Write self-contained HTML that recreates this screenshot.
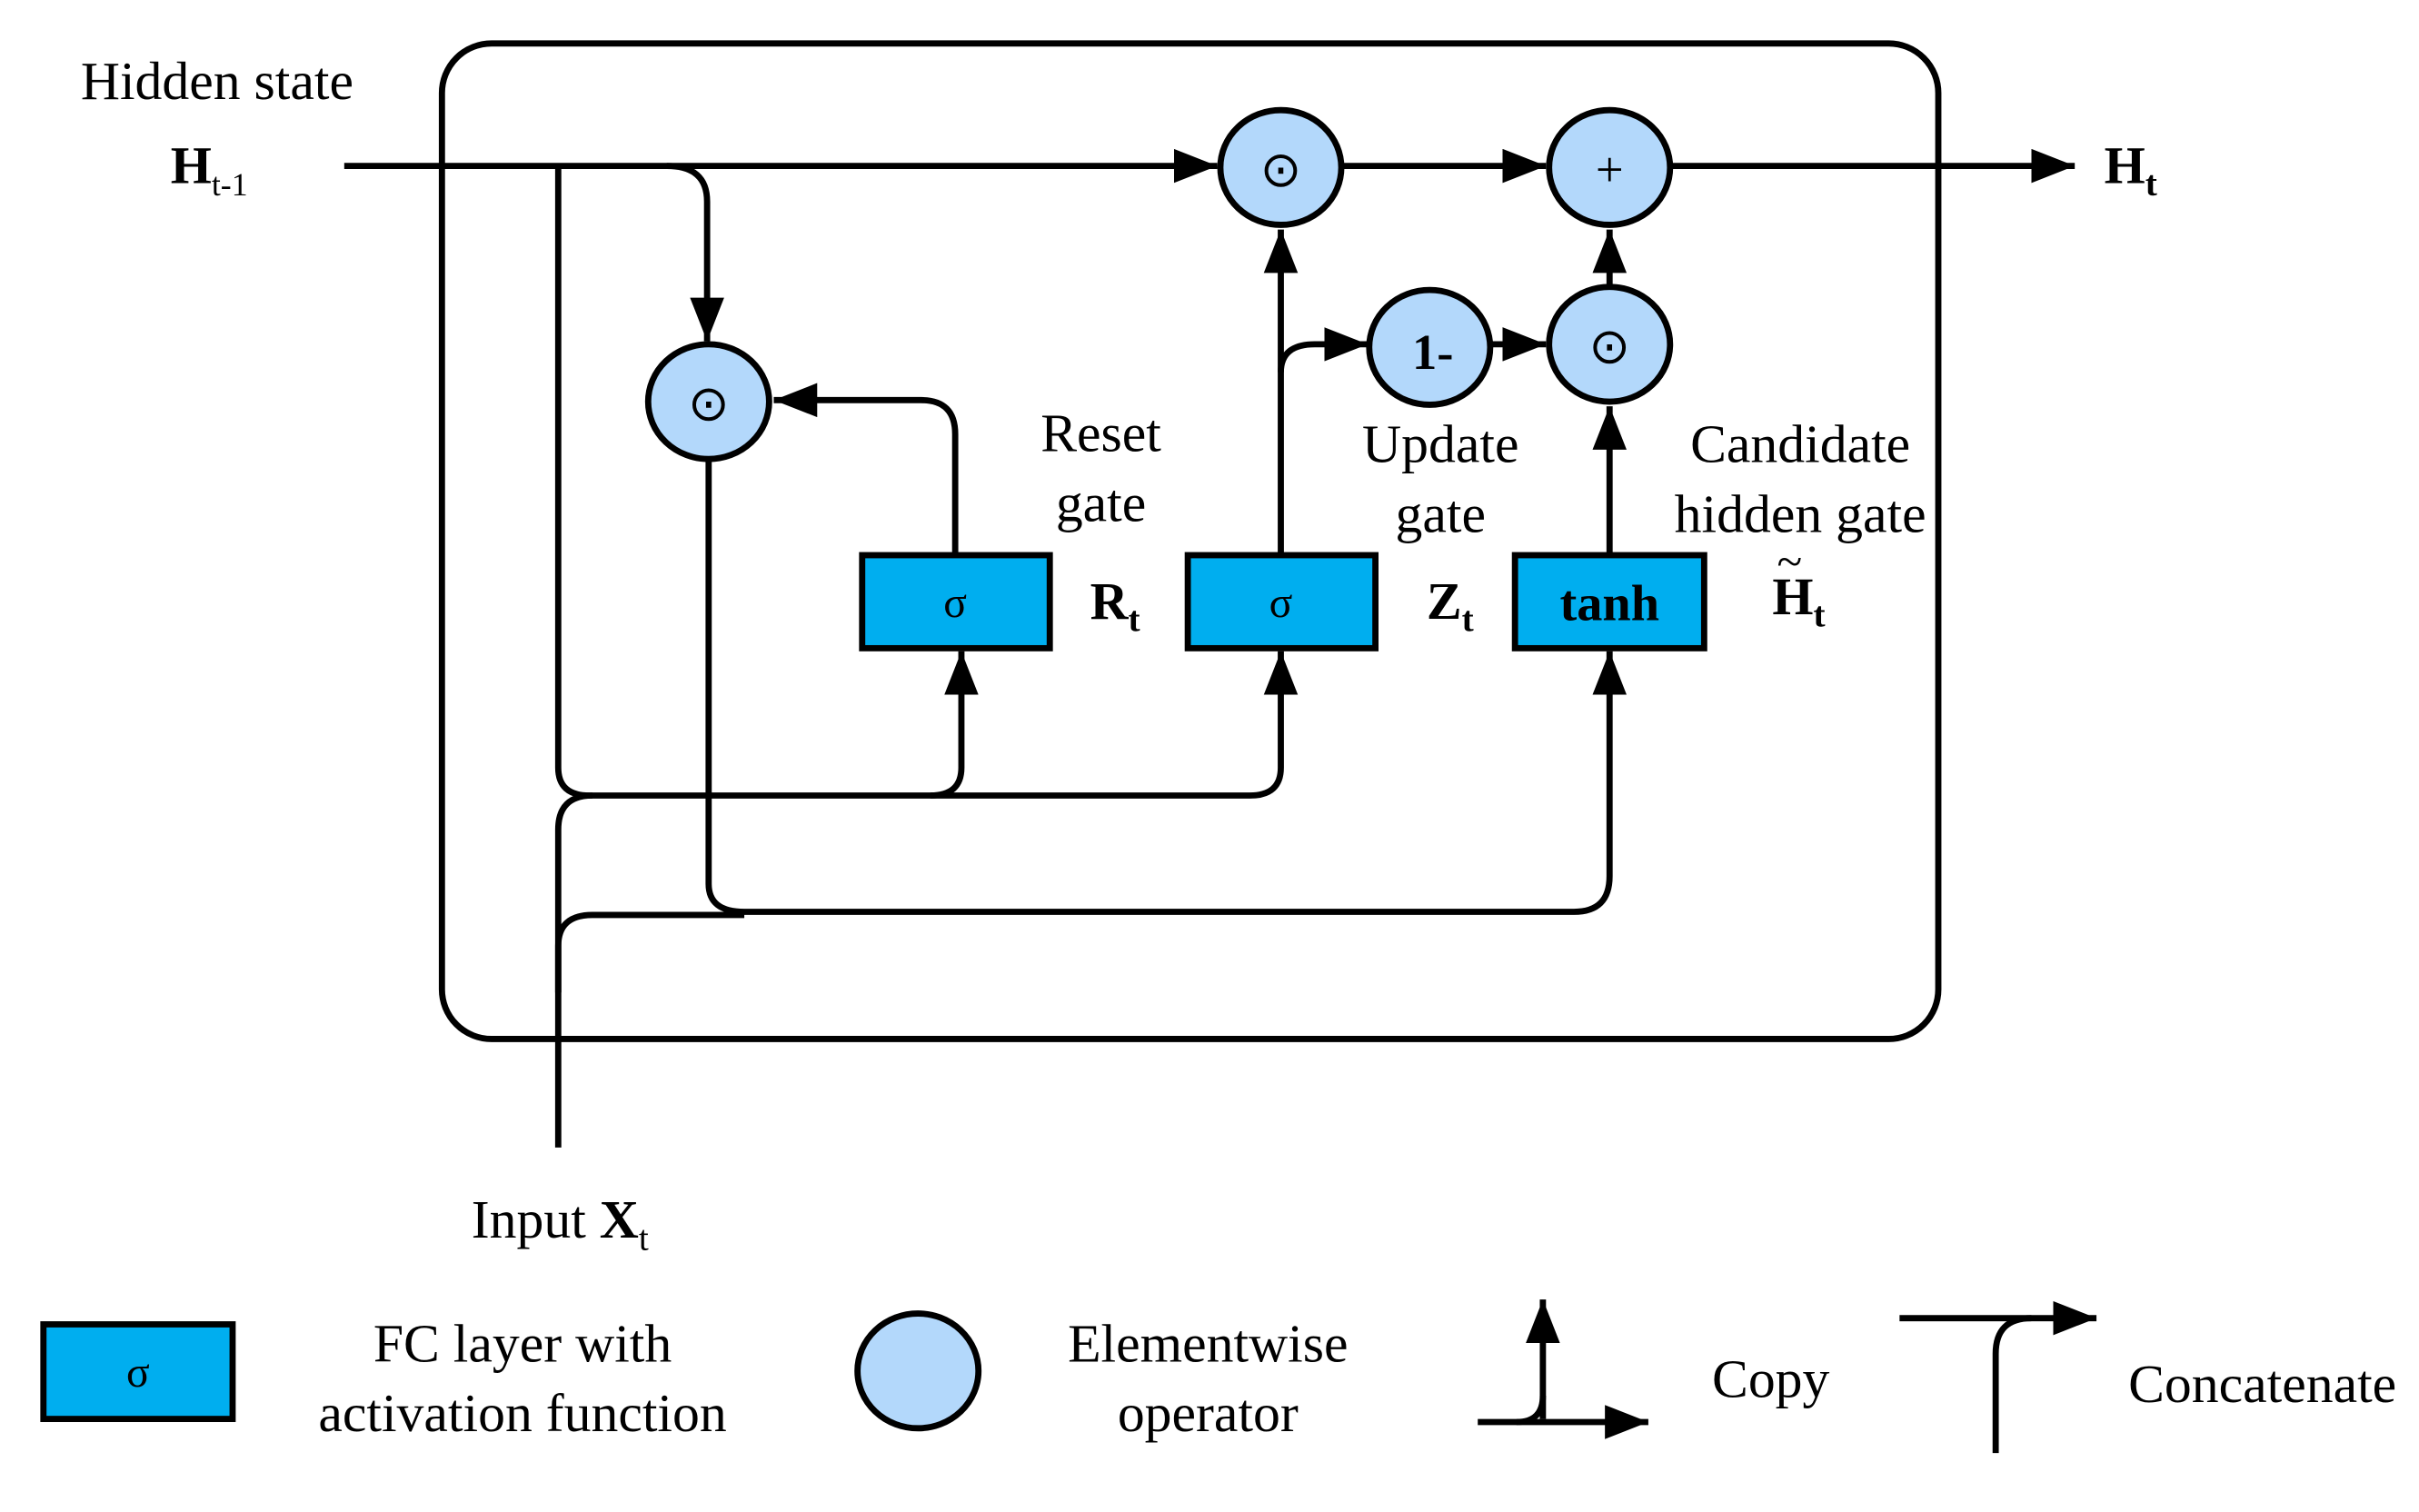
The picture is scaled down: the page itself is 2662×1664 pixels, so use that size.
<!DOCTYPE html>
<html><head><meta charset="utf-8"><style>html,body{margin:0;padding:0;background:#fff}svg{display:block}</style></head><body>
<svg width="2662" height="1664" viewBox="0 0 1560 975" preserveAspectRatio="none" xmlns="http://www.w3.org/2000/svg" font-family="Liberation Serif, serif">
<defs>
<marker id="b" viewBox="0 0 10 10" refX="10" refY="5" markerWidth="28" markerHeight="22" orient="auto" markerUnits="userSpaceOnUse" preserveAspectRatio="none"><path d="M0,0 L10,5 L0,10z" fill="#000"/></marker></defs>
<g fill="none" stroke="#000" stroke-width="4">
<rect x="285" y="28" width="965" height="642" rx="32"/>
<path d="M222,107 H785" marker-end="url(#b)"/>
<path d="M866,107 H997" marker-end="url(#b)"/>
<path d="M1078,107 H1338" marker-end="url(#b)"/>
<path d="M360,107 V495 Q360,513 380,513 H600 Q620,513 620,495 V420" marker-end="url(#b)"/>
<path d="M600,513 H806 Q826,513 826,495 V420" marker-end="url(#b)"/>
<path d="M430,107 Q456,107 456,130 V220" marker-end="url(#b)"/>
<path d="M616,358 V280 Q616,258 594,258 H499" marker-end="url(#b)"/>
<path d="M457,296 V570 Q457,588 480,588 H1015 Q1038,588 1038,565 V420" marker-end="url(#b)"/>
<path d="M360,740 V535 Q360,513 382,513"/>
<path d="M360,640 V610 Q360,590 382,590 H480"/>
<path d="M826,358 V148" marker-end="url(#b)"/>
<path d="M826,240 Q826,222 848,222 H882" marker-end="url(#b)"/>
<path d="M962,222 H997" marker-end="url(#b)"/>
<path d="M1038,358 V262" marker-end="url(#b)"/>
<path d="M1038,185 V148" marker-end="url(#b)"/>
<path d="M995,915 V838" marker-end="url(#b)"/>
<path d="M953,917 H1063" marker-end="url(#b)"/>
<path d="M995,900 Q995,917 978,917"/>
<path d="M1225,850 H1352" marker-end="url(#b)"/>
<path d="M1310,850 Q1287,850 1287,873 V937"/>
</g>
<g stroke="#000" stroke-width="4" fill="#b3d8fb">
<ellipse cx="826" cy="108" rx="39" ry="37"/><ellipse cx="1038" cy="108" rx="39" ry="37"/>
<ellipse cx="457" cy="259" rx="39" ry="37"/><ellipse cx="922" cy="224" rx="39" ry="37"/>
<ellipse cx="1038" cy="222" rx="39" ry="37"/><ellipse cx="592" cy="884" rx="39" ry="37"/>
</g>
<g stroke="#000" stroke-width="4" fill="#00aeef">
<rect x="556" y="358" width="121" height="60"/><rect x="766" y="358" width="121" height="60"/>
<rect x="977" y="358" width="122" height="60"/><rect x="28" y="854" width="122" height="61"/>
</g>
<g font-size="35" text-anchor="middle" fill="#000">
<text x="826" y="120" font-size="32">⊙</text><text x="1038" y="120" font-size="32">+</text><text x="457" y="271" font-size="32">⊙</text>
<text x="1038" y="234" font-size="32">⊙</text><text x="924" y="238" font-weight="bold" font-size="32">1-</text>
<text x="616" y="398" font-size="28">σ</text><text x="826" y="398" font-size="28">σ</text>
<text x="1038" y="400" font-weight="bold" font-size="33">tanh</text><text x="89" y="894" font-size="28">σ</text>
<text x="140" y="64">Hidden state</text>
<text x="710" y="291">Reset</text><text x="710" y="336">gate</text>
<text x="929" y="298">Update</text><text x="929" y="343">gate</text>
<text x="1161" y="298">Candidate</text><text x="1161" y="343">hidden gate</text>
<text x="337" y="878">FC layer with</text><text x="337" y="923">activation function</text>
<text x="779" y="878">Elementwise</text><text x="779" y="923">operator</text>
<text x="1142" y="901">Copy</text><text x="1459" y="904">Concatenate</text>
</g>
<g font-size="34" fill="#000">
<text x="110" y="118" font-weight="bold">H<tspan font-size="21" dy="8" font-weight="normal">t-1</tspan></text>
<text x="1357" y="118" font-weight="bold">H<tspan font-size="23" dy="8">t</tspan></text>
<text x="703" y="399" font-weight="bold">R<tspan font-size="23" dy="8">t</tspan></text>
<text x="920" y="399" font-weight="bold">Z<tspan font-size="23" dy="8">t</tspan></text>
<text x="1143" y="396" font-weight="bold">H<tspan font-size="23" dy="8">t</tspan></text>
<text x="1146" y="372" font-size="30">~</text>
<text x="304" y="798" font-size="35">Input <tspan font-weight="bold">X</tspan><tspan font-size="23" dy="8">t</tspan></text>
</g>
</svg>
</body></html>
